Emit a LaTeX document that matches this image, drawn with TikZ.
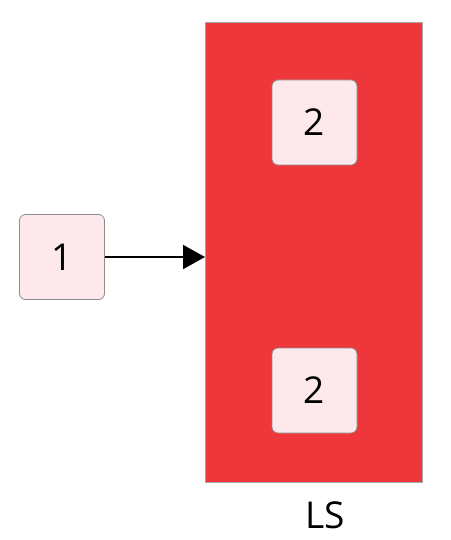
\documentclass[tikz,border=0pt]{standalone}
\usepackage{fontspec}
\setmainfont{Open Sans}
\usetikzlibrary{arrows.meta}
\begin{document}
\begin{tikzpicture}[x=1pt,y=-1pt,
  box/.style={draw=black!45,line width=0.8pt,fill=boxfill,rounded corners=6pt,minimum width=85pt,minimum height=85pt,inner sep=0pt,font=\fontsize{37}{42}\selectfont},
  grp/.style={draw=black!35,line width=0.6pt,fill=grpred}]
\definecolor{boxfill}{HTML}{FDE9EB}
\definecolor{grpred}{HTML}{EE373A}
\useasboundingbox (0,0) rectangle (450,540);
\draw[grp] (205,22) rectangle (422,482);
\coordinate (gl) at (205,257);
\node[box] (n1) at (62,257) {1};
\node[box] (n2a) at (314.5,122.5) {2};
\node[box] (n2b) at (314.5,390.5) {2};
\node[font=\fontsize{37}{42}\selectfont] (ls) at (325,515) {LS};
\draw[line width=2pt,-{Triangle[length=22pt,width=24pt]}] (n1.east) -- (gl);
\end{tikzpicture}
\end{document}
